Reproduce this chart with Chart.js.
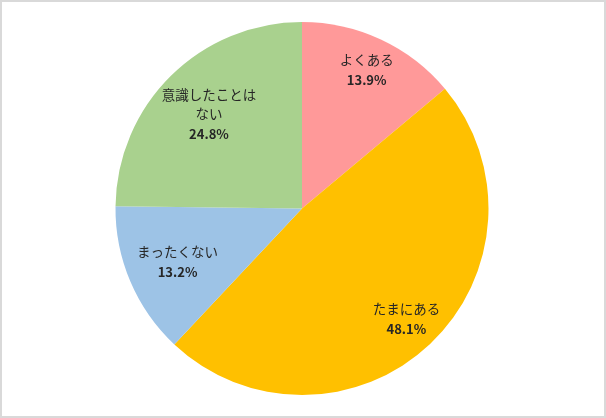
<!DOCTYPE html>
<html lang="ja">
<head>
<meta charset="utf-8">
<script src="https://cdn.jsdelivr.net/npm/chart.js@4/dist/chart.umd.min.js"></script>
<style>
  html, body { margin: 0; padding: 0; background: #fff; }
  #wrap {
    width: 606px;
    height: 418px;
    box-sizing: border-box;
    border: 2px solid #d9d9d9;
    background: #fff;
  }
</style>
</head>
<body>
<div id="wrap"><canvas id="myChart" width="602" height="414"></canvas></div>
<script>
// データ
const categorias = ["よくある", "たまにある", "まったくない", ["意識したことは", "ない"]];
const valores = [13.9, 48.1, 13.2, 24.8];
const colores = ["#FF9999", "#FFC000", "#9DC3E6", "#A9D18E"];

// ラベルの位置 (半径に対する割合)
const radioEtiqueta = [0.82, 0.815, 0.725, 0.71];

const etiquetasPlugin = {
  id: "etiquetas",
  afterDatasetsDraw(chart) {
    const ctx = chart.ctx;
    const meta = chart.getDatasetMeta(0);
    meta.data.forEach((arc, i) => {
      const p = arc.getProps(["x", "y", "startAngle", "endAngle", "outerRadius"], true);
      const mid = (p.startAngle + p.endAngle) / 2;
      const r = p.outerRadius * radioEtiqueta[i];
      const cx = p.x + Math.cos(mid) * r;
      const cy = p.y + Math.sin(mid) * r;

      const cat = categorias[i];
      const lineas = Array.isArray(cat) ? cat.slice() : [cat];
      const pct = valores[i].toFixed(1) + "%";
      const altoLinea = 19.5;
      const total = (lineas.length + 1) * altoLinea;
      let y = cy - total / 2 + altoLinea / 2;

      ctx.save();
      ctx.fillStyle = "#262626";
      ctx.textAlign = "center";
      ctx.textBaseline = "middle";
      ctx.font = "13.5px 'Noto Sans CJK JP', sans-serif";
      lineas.forEach((l) => {
        ctx.fillText(l, cx, y);
        y += altoLinea;
      });
      ctx.font = "bold 13px 'Noto Sans CJK JP', 'Noto Sans', sans-serif";
      ctx.fillText(pct, cx, y + 0.5);
      ctx.restore();
    });
  },
};

const config = {
  type: "pie",
  data: {
    labels: categorias,
    datasets: [
      {
        data: valores,
        backgroundColor: colores,
        borderWidth: 0,
        hoverOffset: 0,
        offset: 0,
      },
    ],
  },
  options: {
    responsive: false,
    animation: false,
    layout: { padding: { top: 20, bottom: 21, left: 0, right: 2 } },
    plugins: {
      legend: { display: false },
      tooltip: { enabled: false },
    },
  },
  plugins: [etiquetasPlugin],
};

new Chart(document.getElementById("myChart"), config);
</script>
</body>
</html>
